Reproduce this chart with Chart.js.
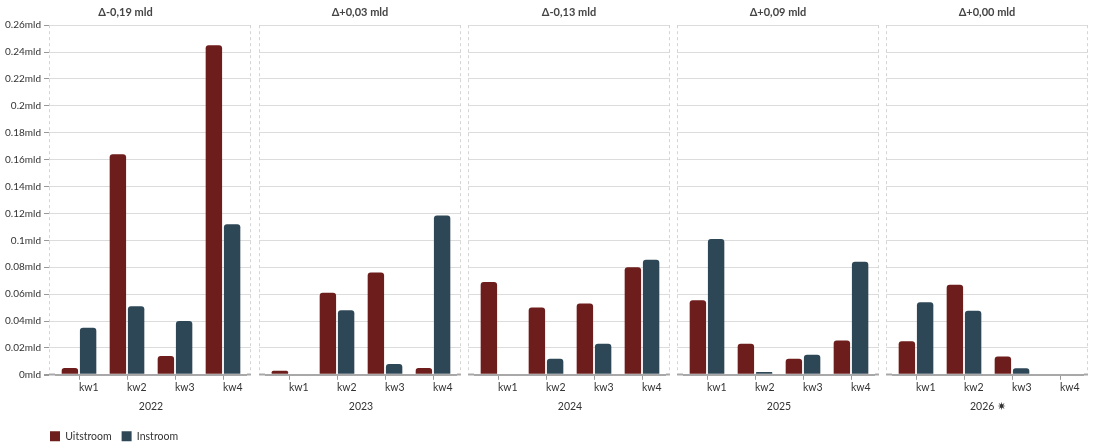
<!DOCTYPE html>
<html><head><meta charset="utf-8">
<script src="https://cdn.jsdelivr.net/npm/chart.js@4"></script>
<style>
html,body{margin:0;padding:0;background:#fff;}
#wrap{position:relative;width:1093px;height:446px;overflow:hidden;}
#wrap canvas{position:absolute;}
</style></head><body><div id="wrap"></div>
<script>
// ---- data ----
const years = ['2022', '2023', '2024', '2025', '2026 ✷'];
const quarters = ['kw1', 'kw2', 'kw3', 'kw4'];
const deltaTitles = ['Δ-0,19 mld', 'Δ+0,03 mld', 'Δ-0,13 mld', 'Δ+0,09 mld', 'Δ+0,00 mld'];
const seriesNames = ['Uitstroom', 'Instroom'];
const uitstroom2022 = [0.005, 0.164, 0.014, 0.245];
const instroom2022  = [0.035, 0.051, 0.040, 0.112];
const uitstroom2023 = [0.003, 0.061, 0.076, 0.005];
const instroom2023  = [0, 0.048, 0.008, 0.1185];
const uitstroom2024 = [0.069, 0.050, 0.053, 0.080];
const instroom2024  = [0, 0.012, 0.023, 0.0855];
const uitstroom2025 = [0.0555, 0.023, 0.012, 0.0255];
const instroom2025  = [0.101, 0.002, 0.015, 0.084];
const uitstroom2026 = [0.025, 0.067, 0.0137, 0];
const instroom2026  = [0.054, 0.0477, 0.0048, 0];
const yMin = 0, yMax = 0.26, yStep = 0.02;
const uitstroomByYear = [uitstroom2022, uitstroom2023, uitstroom2024, uitstroom2025, uitstroom2026];
const instroomByYear  = [instroom2022, instroom2023, instroom2024, instroom2025, instroom2026];

// ---- styles / layout ----
const RED = '#6d1d1b', BLUE = '#2e4757';
const FONT = 'Lato';
const TXT = '#333';
const GRID = '#dcdcdc', AXIS = '#a8a8a8';
const PANEL_H = 413;
const PANEL_LEFTS = [49, 259, 468, 677, 886];
const PANEL_W = 202, LEAD_L = 6, LEAD_R = 4, YAXIS_W = 49, SIDE = 6;

const gridColor = c => (c.tick && c.tick.value === 0) ? AXIS : GRID;
const gridWidth = c => (c.tick && c.tick.value === 0) ? 2 : 1;

const edgePlugin = {
  id: 'edges',
  beforeDatasetsDraw(chart) {
    const {ctx, chartArea, scales} = chart;
    ctx.save();
    ctx.strokeStyle = '#d4d4d4';
    ctx.lineWidth = 1;
    ctx.setLineDash([3, 3]);
    [scales.yl.left, scales.yr.right - 1].forEach(x => {
      const px = Math.round(x) + 0.5;
      ctx.beginPath();
      ctx.moveTo(px, chartArea.top);
      ctx.lineTo(px, chartArea.bottom - 1);
      ctx.stroke();
    });
    ctx.restore();
  }
};

const wrap = document.getElementById('wrap');
function makeCanvas(left, top, w, h) {
  const c = document.createElement('canvas');
  c.width = w; c.height = h;
  c.style.left = left + 'px'; c.style.top = top + 'px';
  c.style.width = w + 'px'; c.style.height = h + 'px';
  wrap.appendChild(c);
  return c;
}

function leadAxis(pos, w) {
  return {
    position: pos, min: yMin, max: yMax, weight: 0,
    afterFit(s) { s.width = w; },
    grid: {display: true, drawOnChartArea: false, drawTicks: true, tickLength: w,
           tickColor: gridColor, tickWidth: gridWidth},
    border: {display: false},
    ticks: {display: false, stepSize: yStep}
  };
}

years.forEach((yr, i) => {
  const first = i === 0;
  const L = PANEL_LEFTS[i];
  let cLeft, cW, pad;
  if (first) {
    cLeft = 0; cW = (L + PANEL_W) + YAXIS_W;
    pad = {left: 0, right: YAXIS_W, top: 0, bottom: 0};
  } else {
    cLeft = L - SIDE; cW = PANEL_W + 2 * SIDE;
    pad = {left: SIDE, right: SIDE, top: 0, bottom: 0};
  }
  const cv = makeCanvas(cLeft, 0, cW, PANEL_H);
  new Chart(cv, {
    type: 'bar',
    data: {
      labels: quarters,
      datasets: [
        {label: seriesNames[0], data: uitstroomByYear[i], backgroundColor: RED},
        {label: seriesNames[1], data: instroomByYear[i], backgroundColor: BLUE}
      ]
    },
    options: {
      responsive: false,
      animation: false,
      layout: {padding: pad},
      categoryPercentage: 0.76,
      barPercentage: 0.9,
      datasets: {bar: {borderRadius: 3, borderSkipped: 'start'}},
      plugins: {
        legend: {display: false},
        tooltip: {enabled: false},
        title: {display: true, text: deltaTitles[i], color: '#444',
          font: {family: FONT, size: 11, weight: 'bold'}, padding: {top: 6, bottom: 6}}
      },
      scales: {
        x: {
          grid: {display: true, drawOnChartArea: false, drawTicks: true, tickLength: 5,
                 tickColor: '#999', offset: false},
          border: {display: false},
          ticks: {align: 'start', color: TXT, font: {family: FONT, size: 10.5}, padding: 2, maxRotation: 0},
          title: {display: true, text: yr, color: TXT, font: {family: FONT, size: 10.5}, padding: {top: 4, bottom: 0}}
        },
        y: {
          position: 'left', weight: 1,
          min: yMin, max: yMax,
          afterFit(s) { s.width = first ? YAXIS_W : 0; },
          grid: {color: gridColor, lineWidth: gridWidth, drawTicks: first, tickLength: 5, tickColor: '#999'},
          border: {display: false},
          ticks: {display: first, stepSize: yStep, color: TXT, padding: 3,
                  font: {family: FONT, size: 10},
                  callback: v => (+v.toFixed(2)) + 'mld'}
        },
        yl: leadAxis('left', LEAD_L),
        yr: leadAxis('right', LEAD_R)
      }
    },
    plugins: [edgePlugin]
  });
});

// legend
const lc = makeCanvas(40, 421, 220, 50);
new Chart(lc, {
  type: 'bar',
  data: {labels: [], datasets: [
    {label: seriesNames[0], data: [], backgroundColor: RED},
    {label: seriesNames[1], data: [], backgroundColor: BLUE}
  ]},
  options: {
    responsive: false, animation: false,
    scales: {x: {display: false}, y: {display: false}},
    plugins: {
      tooltip: {enabled: false},
      legend: {display: true, position: 'top', align: 'start',
        labels: {boxWidth: 10, boxHeight: 10, padding: 10, color: TXT, font: {family: FONT, size: 10.5}}}
    }
  }
});
</script></body></html>
